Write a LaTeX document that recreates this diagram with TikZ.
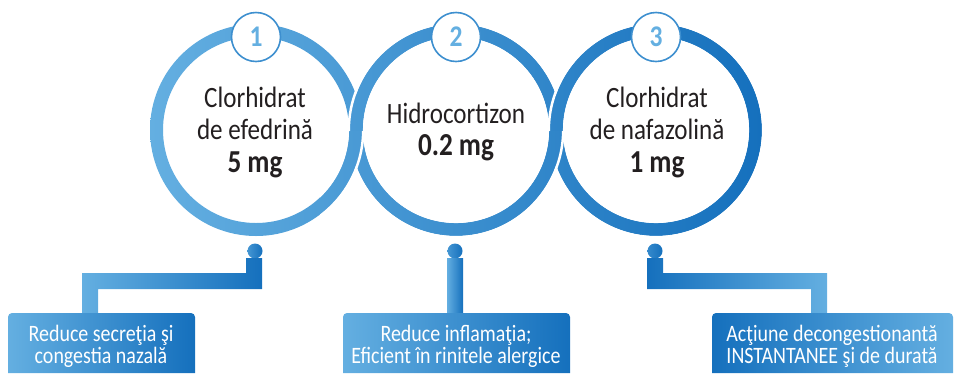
\documentclass[tikz,border=0pt]{standalone}
\usepackage{fontspec}
\setmainfont{Carlito}[FakeStretch=0.85]
\usetikzlibrary{positioning}
\definecolor{blueL}{HTML}{64AFE1}
\definecolor{blueD}{HTML}{1570BD}
\definecolor{ink}{HTML}{231F20}

\tikzset{
  gapline/.style={white, line width=2.5pt},
  dose/.style={align=center, text=ink, font=\fontsize{29.5}{32.5}\selectfont, inner sep=0pt},
  badge/.style={circle, fill=white, draw=blueL!50!blueD, line width=1.6pt, minimum size=49pt, inner sep=0pt,
    text=blueL, font=\bfseries\fontsize{30}{30}\selectfont},
  effect/.style={align=center, text=white, font=\fontsize{23.5}{22}\selectfont, inner sep=0pt},
}
\newcommand\amount[1]{{\bfseries\fontsize{32}{32.5}\selectfont #1}}

\begin{document}
\begin{tikzpicture}[x=1pt, y=-1pt]
\useasboundingbox (0,0) rectangle (957,373);

% inele
\coordinate (c1) at (256,130);
\coordinate (c2) at (456,130);
\coordinate (c3) at (656,130);
\shade[left color=blueL, right color=blueL!66!blueD, even odd rule] (c1) circle (106pt) (c1) circle (93pt);
\shade[left color=blueL!66!blueD, right color=blueL!33!blueD, even odd rule] (c2) circle (106pt) (c2) circle (93pt);
\draw[gapline] (c2) circle (107.2pt) (c2) circle (91.8pt);
\shade[left color=blueL!33!blueD, right color=blueD, even odd rule] (c3) circle (106pt) (c3) circle (93pt);
\draw[gapline] (c3) circle (107.2pt) (c3) circle (91.8pt);

% incrucisari de jos
\begin{scope}
\clip (320,131) rectangle (395,260);
\shade[left color=blueL, right color=blueL!66!blueD, even odd rule] (c1) circle (106pt) (c1) circle (93pt);
\draw[gapline] (c1) circle (107.2pt) (c1) circle (91.8pt);
\end{scope}
\begin{scope}
\clip (520,131) rectangle (595,260);
\shade[left color=blueL!66!blueD, right color=blueL!33!blueD, even odd rule] (c2) circle (106pt) (c2) circle (93pt);
\draw[gapline] (c2) circle (107.2pt) (c2) circle (91.8pt);
\end{scope}

% numere
\node[badge] (n1) at (256,37) {1};
\node[badge] (n2) at (456,37) {2};
\node[badge] (n3) at (656,37) {3};

% substante
\node[dose] (s1) at (255,132) {Clorhidrat\\de efedrină\\\amount{5 mg}};
\node[dose] (s2) at (456,132) {Hidrocortizon\\\amount{0.2 mg}};
\node[dose] (s3) at (657,132) {Clorhidrat\\de nafazolină\\\amount{1 mg}};

% legaturi
\shade[left color=blueL!60!blueD, right color=blueD] (255,251) circle (7.5pt);
\shade[left color=blueL!60!blueD, right color=blueD] (455,251) circle (7.5pt);
\shade[left color=blueL!40!blueD, right color=blueD] (655,251) circle (7.5pt);
\shade[left color=blueL, right color=blueD]
  (246,258) -- (262,258) -- (262,289) -- (98,289) -- (98,313) -- (82,313) -- (82,273) -- (246,273) -- cycle;
\shade[left color=blueL, right color=blueD]
  (447,258) -- (463,258) -- (463,313) -- (447,313) -- cycle;
\shade[left color=blueD, right color=blueL]
  (647,258) -- (663,258) -- (663,273) -- (827,273) -- (827,313) -- (811,313) -- (811,289) -- (647,289) -- cycle;

% casete
\shade[left color=blueL, right color=blueD, rounded corners=4pt]
  (8,373) -- (8,313) -- (195,313) -- (195,373);
\shade[left color=blueL, right color=blueD, rounded corners=4pt]
  (343,373) -- (343,313) -- (570,313) -- (570,373);
\shade[left color=blueD, right color=blueL, rounded corners=4pt]
  (712,373) -- (712,313) -- (953,313) -- (953,373);
\node[effect] (e1) at (101,346) {Reduce secreţia şi\\congestia nazală};
\node[effect] (e2) at (456,346) {Reduce inflamaţia;\\Eficient în rinitele alergice};
\node[effect] (e3) at (832,346) {Acţiune decongestionantă\\INSTANTANEE şi de durată};
\end{tikzpicture}
\end{document}
